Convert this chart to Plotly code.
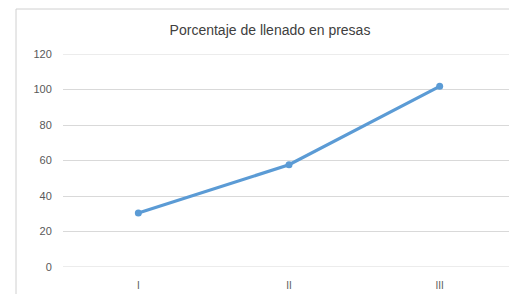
import plotly.graph_objects as go

categories = ["I", "II", "III"]
values = [30.4, 57.6, 101.8]
y_ticks = [0, 20, 40, 60, 80, 100, 120]
title_text = "Porcentaje de llenado en presas"

# The page body adds an 8px margin, so the figure is sized/placed to compensate.
OFF = 8
W, H = 517 - OFF, 294 - OFF
L, R, T, B = 55, 2, 46, 27
pw = W - L - R
ph = H - T - B

def px_x(px):
    return (px - OFF - L) / pw

def px_y(py):
    return (H - B - (py - OFF)) / ph

fig = go.Figure()
fig.add_trace(go.Scatter(
    x=categories, y=values, mode="lines+markers",
    line=dict(color="#5B9BD5", width=3.2),
    marker=dict(color="#5B9BD5", size=7),
    showlegend=False, hoverinfo="skip",
))

gray = "#d9d9d9"
shapes = [
    dict(type="line", xref="paper", yref="paper", layer="below",
         x0=px_x(16), x1=px_x(16), y0=px_y(9), y1=px_y(294),
         line=dict(color="#d0d0d0", width=1)),
    dict(type="line", xref="paper", yref="paper", layer="below",
         x0=px_x(16), x1=px_x(517), y0=px_y(9), y1=px_y(9),
         line=dict(color="#d0d0d0", width=1)),
]
# gridlines at the range edges (plotly hides them at the plot border)
for v in (y_ticks[0], y_ticks[-1]):
    shapes.append(dict(type="line", xref="paper", yref="y", layer="below",
                       x0=0, x1=1, y0=v, y1=v,
                       line=dict(color=gray, width=1)))

fig.update_layout(
    width=W, height=H,
    margin=dict(l=L, r=R, t=T, b=B),
    paper_bgcolor="white", plot_bgcolor="white",
    font=dict(family="Liberation Sans, Arial, sans-serif", color="#595959", size=11),
    title=dict(text=title_text, x=(270 - OFF) / W, xanchor="center", xref="container",
               y=1 - (30 - OFF) / H, yanchor="middle", yref="container",
               font=dict(size=14, color="#404040")),
    xaxis=dict(type="category", range=[-0.5, 2.5], showgrid=False,
               showline=False, zeroline=False, ticks="outside", ticklen=9,
               tickcolor="rgba(0,0,0,0)", tickfont=dict(size=10)),
    yaxis=dict(range=[0, 120], tickvals=y_ticks, showgrid=True,
               gridcolor=gray, gridwidth=1, zeroline=False, showline=False,
               ticks="outside", ticklen=8, tickcolor="rgba(0,0,0,0)"),
    shapes=shapes,
)

fig.write_html("out.html")
